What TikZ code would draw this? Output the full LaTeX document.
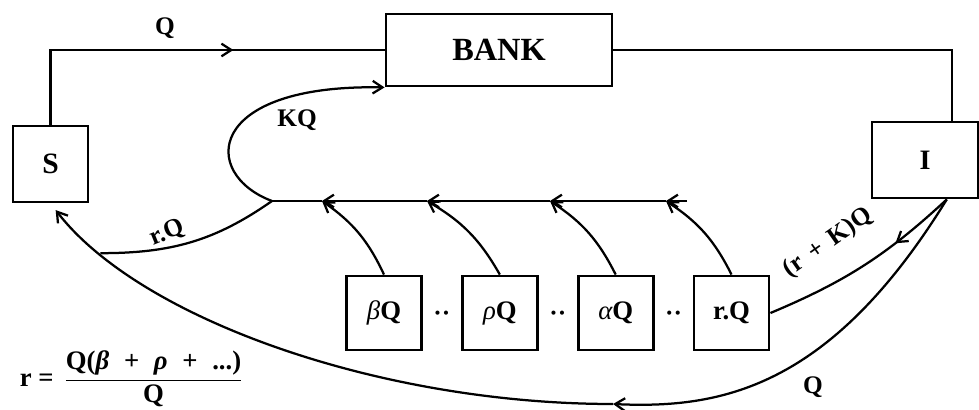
\documentclass[tikz,border=0pt]{standalone}
\usepackage{fontspec}
\setmainfont{Liberation Serif}
\usepackage{amsmath}
\usetikzlibrary{arrows.meta,positioning,calc,decorations.markings}
\tikzset{
  flowbox/.style={draw,line width=2pt,inner sep=1pt,font=\fontsize{19}{22}\selectfont\bfseries},
  smallbox/.style={flowbox,minimum width=1.875cm,minimum height=1.85cm},
  flowlbl/.style={font=\fontsize{18}{21}\selectfont\bfseries},
  midarrow/.style={postaction={decorate},decoration={markings,mark=at position #1 with {\arrow{Straight Barb[length=7pt,width=9pt]}}}},
}

\begin{document}
\begin{tikzpicture}[x=0.025cm,y=0.025cm,>={Straight Barb[length=7pt,width=9pt]},line width=1.6pt,node distance=0.95cm]
  \useasboundingbox (0,0) rectangle (979,409);
  % main boxes
  \node[flowbox,minimum width=1.875cm,minimum height=1.9cm,font=\fontsize{21}{24}\selectfont\bfseries] (S) at (50.5,245) {S};
  \node[flowbox,minimum width=5.65cm,minimum height=1.8cm,font=\fontsize{23}{26}\selectfont\bfseries] (bank) at (499,359) {BANK};
  \node[flowbox,minimum width=2.65cm,minimum height=1.9cm,font=\fontsize{20}{24}\selectfont\bfseries] (I) at (925,249) {I};
  % row of shares
  \node[smallbox] (betaQ) at (384,96) {{\mdseries\itshape β}Q};
  \node[smallbox,right=of betaQ] (rhoQ) {{\mdseries\itshape ρ}Q};
  \node[smallbox,right=of rhoQ] (alphaQ) {{\mdseries\itshape α}Q};
  \node[smallbox,right=of alphaQ] (rQ) {r.Q};
  \node[flowlbl] (dots1) at ($(betaQ.east)!0.5!(rhoQ.west)+(0,-3)$) {··};
  \node[flowlbl] (dots2) at ($(rhoQ.east)!0.5!(alphaQ.west)+(0,-3)$) {··};
  \node[flowlbl] (dots3) at ($(alphaQ.east)!0.5!(rQ.west)+(0,-3)$) {··};
  % collecting line
  \coordinate (jn) at (272,208);
  \coordinate (lend) at (687,208);
  \coordinate (j1) at (322,208);
  \coordinate (j2) at (427,208);
  \coordinate (j3) at (550,208);
  \coordinate (j4) at (666,208);
  \coordinate (qlow) at (613,5);
  \coordinate (ibot) at ($(I.south)!0.4!(I.south east)$);
  \coordinate (itop) at ($(I.north)!0.5!(I.north east)$);
  \draw[->] (lend) -- (j4);
  \draw[->] (j4) -- (j3);
  \draw[->] (j3) -- (j2);
  \draw[->] (j2) -- (j1);
  \draw (j1) -- (jn);
  \draw[->] (betaQ.north) to[bend right=15] (j1);
  \draw[->] (rhoQ.north) to[bend right=15] (j2);
  \draw[->] (alphaQ.north) to[bend right=15] (j3);
  \draw[->] (rQ.north) to[bend right=15] (j4);
  % flows
  \draw[midarrow=0.63] (S.north) |- (bank.west);
  \draw (bank.east) -| (itop);
  \draw[->] (jn) .. controls (200,235) and (205,325) .. (bank.south west);
  \draw[->] (ibot) .. controls (830,20) and (720,0) .. (qlow);
  \draw[->,shorten >=6pt] (qlow) .. controls (380,5) and (140,90) .. coordinate[pos=0.85] (rqm) (S.south);
  \draw (jn) to[out=215,in=0] (rqm);
  \draw[midarrow=0.32] (ibot) to[bend left=10] (rQ.east);
  % labels
  \node[flowlbl] (lblq) at (165,381) {Q};
  \node[flowlbl] (lblkq) at (297,289) {KQ};
  \node[flowlbl,rotate=22] (lblrq) at (167,176) {r.Q};
  \node[flowlbl,rotate=35] (lblrk) at (828,166) {(r\hspace{0.4em}+\hspace{0.4em}K)Q};
  \node[flowlbl] (lblq2) at (813,22) {Q};
  \node[flowlbl,anchor=west,font=\fontsize{19}{22}\selectfont\bfseries] (rform) at (14,30) {r =\hspace{0.4em}$\dfrac{\text{Q(\textit{β}\hspace{0.55em}+\hspace{0.55em}\textit{ρ}\hspace{0.55em}+\hspace{0.55em}...)}}{\text{Q}}$};
\end{tikzpicture}
\end{document}
